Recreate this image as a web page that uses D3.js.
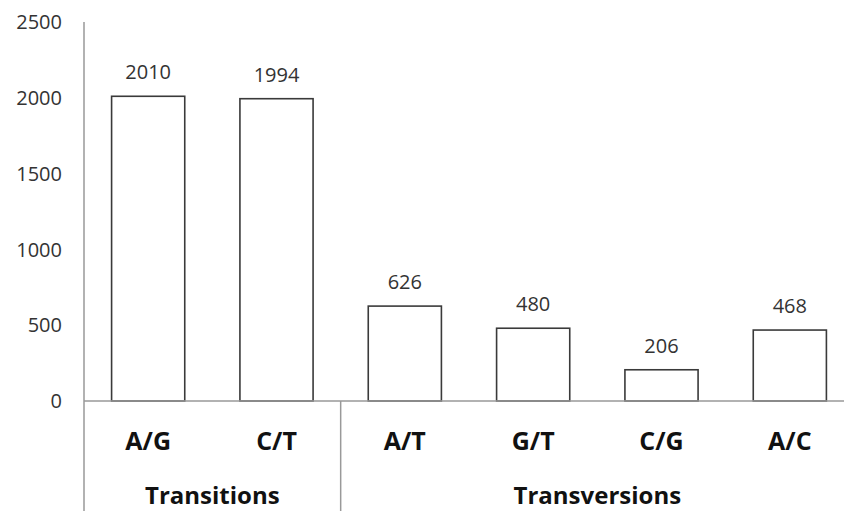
<!DOCTYPE html>
<meta charset="utf-8" />
<style>
  body { margin: 0; background: #fff; }
  text { font-family: "Open Sans", sans-serif; }
</style>
<body>
  <div id="chart"></div>
  <script src="https://cdn.jsdelivr.net/npm/d3@7"></script>
  <script>
    var categorias = ["A/G", "C/T", "A/T", "G/T", "C/G", "A/C"];
    var valores = [2010, 1994, 626, 480, 206, 468];
    var grupos = ["Transitions", "Transversions"];
    var ticksY = [0, 500, 1000, 1500, 2000, 2500];

    var largura = 844, altura = 511;

    var svg = d3.select("#chart").append("svg")
      .attr("width", largura)
      .attr("height", altura);

    var x = d3.scaleBand()
      .domain(categorias)
      .range([84, 854])
      .paddingInner(0.43)
      .paddingOuter(0.215);

    var y = d3.scaleLinear()
      .domain([0, 2500])
      .range([401, 22]);

    // barras
    svg.selectAll("rect.barra")
      .data(valores)
      .enter()
      .append("rect")
      .attr("class", "barra")
      .attr("x", (d, i) => x(categorias[i]))
      .attr("y", d => y(d))
      .attr("width", x.bandwidth())
      .attr("height", d => y(0) - y(d))
      .attr("fill", "#fff")
      .attr("stroke", "#3a3a3a")
      .attr("stroke-width", 1.6);

    // numeros em cima das barras
    svg.selectAll("text.valor")
      .data(valores)
      .enter()
      .append("text")
      .attr("class", "valor")
      .attr("x", (d, i) => x(categorias[i]) + x.bandwidth() / 2)
      .attr("y", d => y(d) - 17)
      .attr("text-anchor", "middle")
      .attr("font-size", "20px")
      .attr("fill", "#333")
      .text(d => d);

    // eixo y
    svg.append("line")
      .attr("x1", 84).attr("x2", 84)
      .attr("y1", y(2500)).attr("y2", altura)
      .attr("stroke", "#999").attr("stroke-width", 1.5);

    svg.selectAll("text.tick")
      .data(ticksY)
      .enter()
      .append("text")
      .attr("class", "tick")
      .attr("x", 62)
      .attr("y", d => y(d))
      .attr("dy", "0.36em")
      .attr("text-anchor", "end")
      .attr("font-size", "20px")
      .attr("fill", "#333")
      .text(d => d);

    // linha base
    svg.append("line")
      .attr("x1", 84).attr("x2", largura)
      .attr("y1", y(0)).attr("y2", y(0))
      .attr("stroke", "#999").attr("stroke-width", 1.5);

    // separador entre grupos
    var xSep = x(categorias[2]) - x.step() * x.paddingInner() / 2;
    svg.append("line")
      .attr("x1", xSep).attr("x2", xSep)
      .attr("y1", y(0)).attr("y2", altura)
      .attr("stroke", "#999").attr("stroke-width", 1.5);

    // rotulos das categorias
    svg.selectAll("text.cat")
      .data(categorias)
      .enter()
      .append("text")
      .attr("class", "cat")
      .attr("x", d => x(d) + x.bandwidth() / 2)
      .attr("y", 441)
      .attr("dy", "0.36em")
      .attr("text-anchor", "middle")
      .attr("font-size", "25px")
      .attr("font-weight", "bold")
      .attr("fill", "#111")
      .text(d => d);

    // rotulos dos grupos
    var limites = [84, xSep, 854];
    svg.selectAll("text.grupo")
      .data(grupos)
      .enter()
      .append("text")
      .attr("class", "grupo")
      .attr("x", (d, i) => (limites[i] + limites[i + 1]) / 2)
      .attr("y", 504)
      .attr("text-anchor", "middle")
      .attr("font-size", "24px")
      .attr("font-weight", "bold")
      .attr("fill", "#111")
      .text(d => d);
  </script>
</body>
